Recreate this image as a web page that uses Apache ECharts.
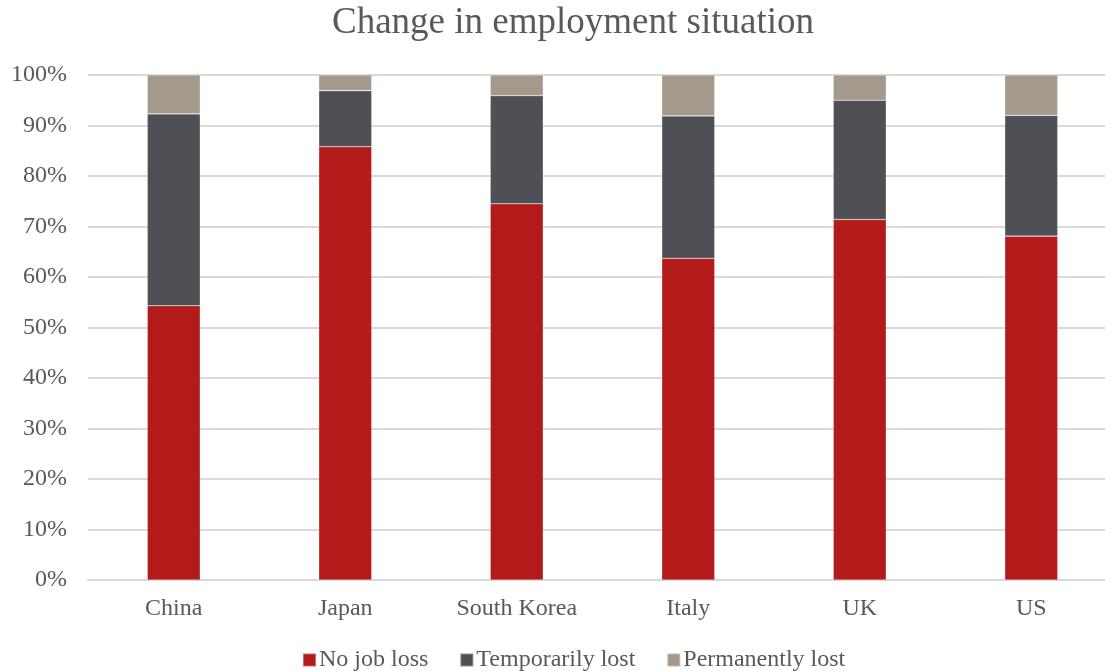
<!DOCTYPE html>
<html>
<head>
<meta charset="utf-8">
<script src="https://cdn.jsdelivr.net/npm/echarts@6/dist/echarts.min.js"></script>
<style>
  html, body { margin: 0; padding: 0; background: #fff; }
  #chart { width: 1105px; height: 671px; }
</style>
</head>
<body>
<div id="chart"></div>
<script>
// Share of respondents by change in employment situation (%)
const categories = ['China', 'Japan', 'South Korea', 'Italy', 'UK', 'US'];
const noJobLoss = [54.3, 85.8, 74.5, 63.7, 71.4, 68.1];
const temporarilyLost = [38.0, 11.1, 21.4, 28.2, 23.6, 23.9];
const permanentlyLost = [7.7, 3.1, 4.1, 8.1, 5.0, 8.0];
const yTicks = [0, 10, 20, 30, 40, 50, 60, 70, 80, 90, 100];

const font = 'Liberation Serif, Times New Roman, serif';
const textColor = '#595959';

const chart = echarts.init(document.getElementById('chart'));

function stackSeries(name, values, color) {
  return {
    name: name,
    type: 'bar',
    stack: 'total',
    barWidth: 53,
    data: values,
    itemStyle: { color: color, borderColor: 'rgba(255,255,255,0.35)', borderWidth: 0.6 },
    emphasis: { disabled: true }
  };
}

chart.setOption({
  animation: false,
  title: {
    text: 'Change in employment situation',
    left: 568,
    textAlign: 'center',
    top: 0,
    textStyle: { fontFamily: font, fontSize: 37, fontWeight: 'normal', color: textColor }
  },
  legend: {
    top: 648,
    left: 302,
    padding: 0,
    itemWidth: 13,
    itemHeight: 13,
    itemGap: 31,
    icon: 'rect',
    textStyle: { fontFamily: font, fontSize: 24, color: textColor, padding: [0, 0, 0, -2] },
    data: ['No job loss', 'Temporarily lost', 'Permanently lost']
  },
  grid: { left: 88, top: 75, width: 1029, bottom: 91, containLabel: false, outerBoundsMode: 'none' },
  xAxis: {
    type: 'category',
    data: categories,
    axisLine: { lineStyle: { color: '#D9D9D9', width: 2 } },
    axisTick: { show: false },
    axisLabel: { fontFamily: font, fontSize: 24, color: textColor, margin: 17 }
  },
  yAxis: {
    type: 'value',
    min: yTicks[0],
    max: yTicks[yTicks.length - 1],
    interval: yTicks[1] - yTicks[0],
    axisLine: { show: false },
    axisTick: { show: false },
    splitLine: { lineStyle: { color: '#D9D9D9', width: 2 } },
    axisLabel: { fontFamily: font, fontSize: 24, color: textColor, margin: 21, formatter: '{value}%' }
  },
  series: [
    stackSeries('No job loss', noJobLoss, '#B31B1B'),
    stackSeries('Temporarily lost', temporarilyLost, '#4F5055'),
    stackSeries('Permanently lost', permanentlyLost, '#A39A8B')
  ]
});
</script>
</body>
</html>
